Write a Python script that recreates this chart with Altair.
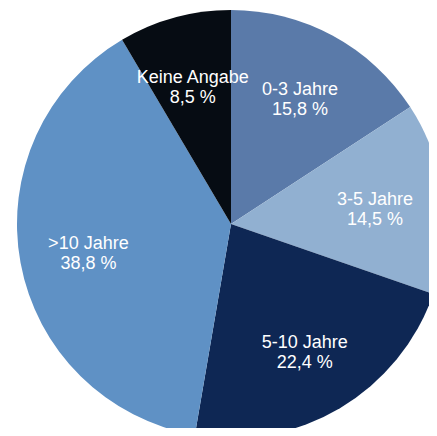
import altair as alt
import pandas as pd

categories = ["0-3 Jahre", "3-5 Jahre", "5-10 Jahre", ">10 Jahre", "Keine Angabe"]
values = [15.8, 14.5, 22.4, 38.8, 8.5]
value_labels = ["15,8 %", "14,5 %", "22,4 %", "38,8 %", "8,5 %"]
colors = ["#5a7aa9", "#91b0d1", "#0e2754", "#5f91c5", "#060c13"]

df = pd.DataFrame({
    "cat": categories,
    "val": values,
    "pct": value_labels,
    "order": list(range(len(categories))),
})

cx, cy = 223, 216

base = alt.Chart(df).encode(
    theta=alt.Theta("val:Q", stack=True),
    order=alt.Order("order:Q"),
)

pie = base.mark_arc(outerRadius=214, stroke=None).encode(
    x=alt.value(cx), y=alt.value(cy),
    color=alt.Color("cat:N", scale=alt.Scale(domain=categories, range=colors), legend=None),
)

font = "Liberation Sans"
t1 = base.mark_text(radius=145, dy=-6, fontSize=18, font=font, color="white").encode(
    x=alt.value(cx), y=alt.value(cy), text="cat:N")
t2 = base.mark_text(radius=145, dy=14, fontSize=18, font=font, color="white").encode(
    x=alt.value(cx), y=alt.value(cy), text="pct:N")

chart = alt.layer(pie, t1, t2).properties(
    width=421, height=420, padding=0,
    autosize=alt.AutoSizeParams(type="none"),
).configure_view(stroke=None)

chart.save("out.html", embed_options={"renderer": "svg", "actions": False})
